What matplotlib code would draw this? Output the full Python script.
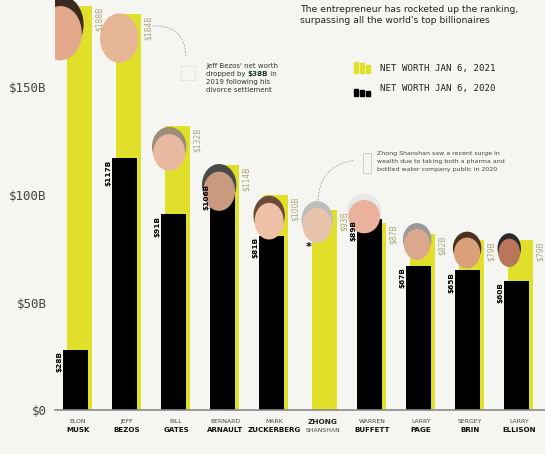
import matplotlib.pyplot as plt
from matplotlib.patches import Ellipse, Rectangle, FancyArrowPatch

# DATA
first_names = ['ELON', 'JEFF', 'BILL', 'BERNARD', 'MARK', 'ZHONG', 'WARREN', 'LARRY', 'SERGEY', 'LARRY']
last_names = ['MUSK', 'BEZOS', 'GATES', 'ARNAULT', 'ZUCKERBERG', 'SHANSHAN', 'BUFFETT', 'PAGE', 'BRIN', 'ELLISON']
bold_first = [False, False, False, False, False, True, False, False, False, False]
worth_2021 = [188, 184, 132, 114, 100, 93, 87, 82, 79, 79]
worth_2020 = [28, 117, 91, 106, 81, None, 89, 67, 65, 60]
yticks = [0, 50, 100, 150]
ytick_labels = ['$0', '$50B', '$100B', '$150B']

# STYLE
BG = '#f5f6f1'
YELLOW = '#e0e02a'
LABEL_2021 = '#a9a97c'
W, H = 545, 454

# face placeholders: (x offset in categories, y offset from top in B, width px, height px, skin, hair)
faces = [(-0.36, -11, 45, 63, '#e2a98c', '#3b2a20'),
         (-0.16, -11, 37, 48, '#e6b596', None),
         (-0.14, -11, 33, 42, '#e8b8a0', '#9c8c78'),
         (-0.12, -11, 33, 45, '#c99a80', '#4a4a4a'),
         (-0.10, -11, 30, 42, '#efc2a8', '#6b4a36'),
         (-0.12, -6, 30, 40, '#e9c4ac', '#bdbdbd'),
         (-0.16, 2, 33, 38, '#eab29c', '#e8e8e8'),
         (-0.08, -4, 27, 35, '#dba88e', '#9a9a9a'),
         (-0.06, -5, 27, 35, '#d9a07a', '#4b3020'),
         (-0.20, -5, 22, 32, '#b8765a', '#2a2a2a')]


def fpx(x, y):
    # pixel position from top-left -> figure fraction
    return x / W, 1 - y / H


fig = plt.figure(figsize=(5.45, 4.54), dpi=100, facecolor=BG)
ax = fig.add_axes([55 / W, 44 / H, 490 / W, 410 / H])
ax.set_facecolor(BG)
ax.set_xlim(-0.47, 9.53)
ax.set_ylim(0, 410 / 2.15)
for s in ax.spines.values():
    s.set_visible(False)
ax.axhline(0, color='#8a8a8a', lw=1.2, zorder=5, clip_on=False)

xs = list(range(len(last_names)))
ax.bar([x + 0.03 for x in xs], worth_2021, width=0.5, color=YELLOW, zorder=1)
x20 = [x - 0.05 for x, v in zip(xs, worth_2020) if v is not None]
v20 = [v for v in worth_2020 if v is not None]
ax.bar(x20, v20, width=0.5, color='black', zorder=2)

# value labels
for x, v in zip(xs, worth_2021):
    ax.annotate('$%dB' % v, xy=(x + 0.28, v), xytext=(2, -1), textcoords='offset points',
                rotation=90, ha='left', va='top', fontsize=5.5, color=LABEL_2021, zorder=8)
for x, v in zip(xs, worth_2020):
    if v is None:
        ax.annotate('*', xy=(x - 0.3, 76), ha='center', va='center', fontsize=8,
                    fontweight='bold', color='black', zorder=8)
        continue
    ax.annotate('$%dB' % v, xy=(x - 0.3, v), xytext=(-1, -1), textcoords='offset points',
                rotation=90, ha='right', va='top', fontsize=5.3, fontweight='bold',
                color='black', zorder=8)

# face placeholders
for x, a, b, f in zip(xs, worth_2021, worth_2020, faces):
    top = max(a, b if b is not None else 0)
    cx, cy = x + f[0], top + f[1]
    w, h = f[2] / 49, f[3] / 2.15
    if f[5] is not None:
        ax.add_patch(Ellipse((cx, cy + h * 0.08), w * 1.0, h * 0.9, color=f[5], zorder=6))
        ax.add_patch(Ellipse((cx, cy - h * 0.06), w * 0.92, h * 0.84, color=f[4], zorder=7))
    else:
        ax.add_patch(Ellipse((cx, cy), w, h, color=f[4], zorder=7))

# x labels
for x, fn, ln, bf in zip(xs, first_names, last_names, bold_first):
    ax.annotate(fn, xy=(x, 0), xytext=(0, -8.5), textcoords='offset points', ha='center',
                va='center', fontsize=5.3 if bf else 4.4, color='#222' if bf else '#444',
                fontweight='bold' if bf else 'normal')
    ax.annotate(ln, xy=(x, 0), xytext=(0, -14.5), textcoords='offset points', ha='center',
                va='center', fontsize=4.4 if bf else 5.1, color='#444' if bf else '#111',
                fontweight='normal' if bf else 'bold')

ax.set_xticks([])
ax.set_yticks(yticks)
ax.set_yticklabels(ytick_labels, family='DejaVu Sans Mono', fontsize=9, color='#444')
ax.tick_params(axis='y', length=0, pad=6)

# title
fig.text(*fpx(300, 5), "The entrepreneur has rocketed up the ranking,\nsurpassing all the world's top billionaires",
         fontsize=6.7, color='#222', va='top', ha='left', linespacing=1.3)

# legend
for row, (col, y0) in enumerate([(YELLOW, 62), ('black', 85)]):
    for k, (bx, bw, bh) in enumerate([(354, 4, 11), (360, 4, 10), (366, 3.5, 8)]):
        x0, y1 = fpx(bx, y0 + 11)
        fig.patches.append(Rectangle((x0, y1), bw / W, (bh if row == 0 else bh * 0.6) / H,
                                     transform=fig.transFigure, color=col))
fig.text(*fpx(380, 69), 'NET WORTH JAN 6, 2021', family='DejaVu Sans Mono', fontsize=6.6,
         color='#222', va='center')
fig.text(*fpx(380, 88), 'NET WORTH JAN 6, 2020', family='DejaVu Sans Mono', fontsize=6.6,
         color='#222', va='center')

# notes
renderer = fig.canvas.get_renderer()
note_kw = dict(fontsize=5, color='#333', va='center', ha='left')
fig.text(*fpx(206, 66), "Jeff Bezos' net worth", **note_kw)
t = fig.text(*fpx(206, 74), "dropped by ", **note_kw)
bb = t.get_window_extent(renderer)
t2 = fig.text(bb.x1 / W, 1 - 74 / H, "$38B", fontsize=5.2, color='#1d3d33', fontweight='bold',
              va='center', ha='left')
bb2 = t2.get_window_extent(renderer)
fig.text(bb2.x1 / W, 1 - 74 / H, " in", **note_kw)
fig.text(*fpx(206, 82), "2019 following his", **note_kw)
fig.text(*fpx(206, 90), "divorce settlement", **note_kw)

zk = dict(fontsize=4.5, color='#444', va='center', ha='left')
fig.text(*fpx(377, 154), "Zhong Shanshan saw a recent surge in", **zk)
fig.text(*fpx(377, 162), "wealth due to taking both a pharma and", **zk)
fig.text(*fpx(377, 170), "bottled water company public in 2020", **zk)

# note icons
fig.patches.append(Rectangle(fpx(181, 80), 14 / W, 14 / H, transform=fig.transFigure,
                             fill=False, ec='#c8c8c8', lw=0.6, ls=':'))
fig.patches.append(Rectangle(fpx(363, 173), 8 / W, 20 / H, transform=fig.transFigure,
                             fill=False, ec='#c8c8c8', lw=0.6))

# dashed connectors
for a, b, rad in [((150, 26), (186, 60), -0.55), ((318, 203), (357, 160), -0.45)]:
    fig.patches.append(FancyArrowPatch(fpx(*a), fpx(*b), transform=fig.transFigure,
                                       connectionstyle='arc3,rad=%s' % rad, arrowstyle='-',
                                       ls=(0, (2, 2)), lw=0.6, color='#aaaaaa'))

fig.savefig('out.png', dpi=100, facecolor=BG)
